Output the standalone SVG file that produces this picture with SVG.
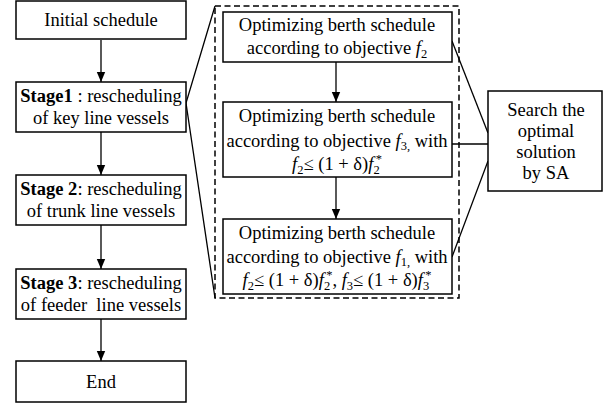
<svg xmlns="http://www.w3.org/2000/svg" width="603" height="405" viewBox="0 0 603 405">
<style>
.box{fill:#fff;stroke:#000;stroke-width:1.5}
text{font-family:'Liberation Serif','Times New Roman',Times,'DejaVu Serif',serif;font-size:18.5px;fill:#000;text-anchor:middle}
.i{font-style:italic}
.s{font-size:12.5px}
.b{font-weight:bold}
.ln{stroke:#000;stroke-width:1.3;fill:none}
.dash{fill:none;stroke:#000;stroke-width:1.5;stroke-dasharray:6 3.5}
</style>
<defs>
<marker id="ah" viewBox="0 0 10 10" refX="10" refY="5" markerWidth="10" markerHeight="10" markerUnits="userSpaceOnUse" orient="auto">
<path d="M0,0.8 L10,5 L0,9.2 Z" fill="#000"/>
</marker>
</defs>
<g id="connectors">
<line class="ln" x1="101" y1="40" x2="101" y2="82" marker-end="url(#ah)"/>
<line class="ln" x1="101" y1="132" x2="101" y2="175" marker-end="url(#ah)"/>
<line class="ln" x1="101" y1="225" x2="101" y2="269" marker-end="url(#ah)"/>
<line class="ln" x1="101" y1="319" x2="101" y2="361" marker-end="url(#ah)"/>
<line class="ln" x1="336" y1="62" x2="336" y2="102" marker-end="url(#ah)"/>
<line class="ln" x1="336" y1="177" x2="336" y2="219" marker-end="url(#ah)"/>
<polyline class="ln" points="215,6 186,103 215,298"/>
<line class="ln" x1="452" y1="41" x2="488" y2="133"/>
<line class="ln" x1="452" y1="144" x2="488" y2="144"/>
<line class="ln" x1="452" y1="257" x2="488" y2="161"/>
</g>
<g id="dashed-group">
<rect class="dash" x="215" y="6" width="244" height="292"/>
</g>
<g id="initial">
<rect class="box" x="16" y="1" width="170" height="38"/>
<text x="101" y="26">Initial schedule</text>
</g>
<g id="stage1">
<rect class="box" x="16" y="82" width="170" height="50"/>
<text x="101" y="102"><tspan class="b">Stage1</tspan> : rescheduling</text>
<text x="101" y="124">of key line vessels</text>
</g>
<g id="stage2">
<rect class="box" x="16" y="175" width="170" height="50"/>
<text x="101" y="195"><tspan class="b">Stage 2</tspan>: rescheduling</text>
<text x="101" y="217">of trunk line vessels</text>
</g>
<g id="stage3">
<rect class="box" x="16" y="269" width="170" height="50"/>
<text x="101" y="289"><tspan class="b">Stage 3</tspan>: rescheduling</text>
<text x="101" y="311" xml:space="preserve">of feeder  line vessels</text>
</g>
<g id="end">
<rect class="box" x="16" y="361" width="170" height="41"/>
<text x="101" y="388">End</text>
</g>
<g id="opt1">
<rect class="box" x="223" y="12" width="229" height="50"/>
<text x="337" y="31">Optimizing berth schedule</text>
<text x="337" y="54">according to objective <tspan class="i">f</tspan><tspan class="s" dy="4">2</tspan></text>
</g>
<g id="opt2">
<rect class="box" x="223" y="102" width="229" height="75"/>
<text x="337" y="122">Optimizing berth schedule</text>
<text x="337" y="147">according to objective <tspan class="i">f</tspan><tspan class="s" dy="3">3,</tspan><tspan dy="-3"> with</tspan></text>
<text x="337" y="170"><tspan class="i">f</tspan><tspan class="s" dy="4">2</tspan><tspan dy="-4">≤ (1 + δ)</tspan><tspan class="i">f</tspan><tspan class="s" dy="4">2</tspan><tspan class="s" dx="-4" dy="-11">*</tspan></text>
</g>
<g id="opt3">
<rect class="box" x="223" y="219" width="229" height="75"/>
<text x="337" y="239">Optimizing berth schedule</text>
<text x="337" y="263">according to objective <tspan class="i">f</tspan><tspan class="s" dy="3">1,</tspan><tspan dy="-3"> with</tspan></text>
<text x="337" y="286"><tspan class="i">f</tspan><tspan class="s" dy="4">2</tspan><tspan dy="-4">≤ (1 + δ)</tspan><tspan class="i">f</tspan><tspan class="s" dy="4">2</tspan><tspan class="s" dx="-4" dy="-11">*</tspan><tspan dy="7">, </tspan><tspan class="i">f</tspan><tspan class="s" dy="4">3</tspan><tspan dy="-4">≤ (1 + δ)</tspan><tspan class="i">f</tspan><tspan class="s" dy="4">3</tspan><tspan class="s" dx="-4" dy="-11">*</tspan></text>
</g>
<g id="search">
<rect class="box" x="488" y="91" width="114" height="100"/>
<text x="546" y="116">Search the</text>
<text x="546" y="137">optimal</text>
<text x="546" y="158">solution</text>
<text x="546" y="179">by SA</text>
</g>
</svg>
